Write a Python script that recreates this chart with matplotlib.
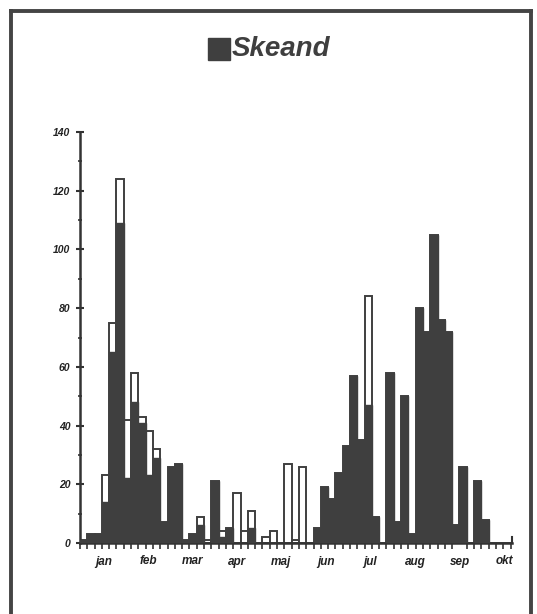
import numpy as np
import matplotlib
matplotlib.use("Agg")
import matplotlib.pyplot as plt
from matplotlib.lines import Line2D
from matplotlib.patches import Rectangle

# ---------------- data (5-day periods, Jan -> Oct) ----------------
# dark part of each bar
dark = [1, 3, 3, 14, 65, 109, 22, 48, 41, 23, 29, 7, 26, 27, 1, 3, 6, 0, 21, 2,
        5, 0, 0, 5, 0, 0, 0, 0, 0, 0, 0, 0, 5, 19, 15, 24, 33, 57, 35, 47,
        9, 0, 58, 7, 50, 3, 80, 72, 105, 76, 72, 6, 26, 0, 21, 8, 0, 0, 0]
# total height (dark + white part)
total = [1, 3, 3, 23, 75, 124, 42, 58, 43, 38, 32, 7, 26, 27, 1, 3, 9, 1, 21, 4,
         5, 17, 4, 11, 0, 2, 4, 0, 27, 1, 26, 0, 5, 19, 15, 24, 33, 57, 35, 84,
         9, 0, 58, 7, 50, 3, 80, 72, 105, 76, 72, 6, 26, 0, 21, 8, 0, 0, 0]
months = ['jan', 'feb', 'mar', 'apr', 'maj', 'jun', 'jul', 'aug', 'sep', 'okt']
title = 'Skeand'

dark_col = '#3f3f3f'
font = ['Liberation Sans Narrow', 'Liberation Sans', 'DejaVu Sans']
plt.rcParams['font.family'] = font

W, H = 537, 614
fig = plt.figure(figsize=(W / 100, H / 100), dpi=100)
fig.patch.set_facecolor('white')

ax = fig.add_axes([80 / W, (H - 543) / H, 432 / W, 411 / H])
x = np.arange(len(dark))

# white (outlined) bars for totals, dark bars on top
ax.bar(x, total, width=1, align='edge', color='white', edgecolor=dark_col,
       linewidth=1.4, zorder=2)
ax.bar(x, dark, width=1, align='edge', color=dark_col, edgecolor=dark_col,
       linewidth=1.0, zorder=3)

ax.set_xlim(0, 59.2)
ax.set_ylim(0, 140)

for s in ['top', 'right']:
    ax.spines[s].set_visible(False)
for s in ['left', 'bottom']:
    ax.spines[s].set_linewidth(1.8)
    ax.spines[s].set_color('#333333')

# y axis ticks
ax.set_yticks(np.arange(0, 141, 20))
ax.set_yticks(np.arange(10, 140, 20), minor=True)
ax.tick_params(axis='y', which='major', direction='inout', length=6, width=1.5,
               color='#333333', pad=4)
ax.tick_params(axis='y', which='minor', direction='inout', length=3, width=1.2,
               color='#333333')
for lab in ax.get_yticklabels():
    lab.set_fontsize(7.5)
    lab.set_fontweight('bold')
    lab.set_fontstyle('italic')
    lab.set_color('#222222')

# x axis: small tick every period, month names in between
ax.set_xticks(np.arange(0, 60), minor=True)
ax.set_xticks([3.2 + 6.1 * i for i in range(len(months))])
ax.set_xticklabels(months)
ax.tick_params(axis='x', which='minor', direction='out', length=4, width=1.2,
               color='#333333')
ax.tick_params(axis='x', which='major', length=0, pad=9)
for lab in ax.get_xticklabels():
    lab.set_fontsize(8.5)
    lab.set_fontweight('bold')
    lab.set_fontstyle('italic')
    lab.set_color('#222222')

# end cap of the x axis
ax.plot([59.2, 59.2], [0, 2], color='#333333', lw=1.5, clip_on=False, zorder=4)

# title with legend square
fig.patches.append(Rectangle((208 / W, 1 - 60 / H), 22 / W, 22 / H,
                             transform=fig.transFigure, color=dark_col))
fig.text(232 / W, 1 - 49 / H, title, fontsize=20, fontweight='bold',
         fontstyle='italic', color=dark_col, va='center', ha='left')

# outer frame (left, top, right edges)
for xs, ys in [([11, 11], [11, 614]), ([11, 531], [11, 11]), ([531, 531], [11, 614])]:
    fig.add_artist(Line2D([xx / W for xx in xs], [1 - yy / H for yy in ys],
                          transform=fig.transFigure, color='#444444', lw=2.8))

fig.savefig('out.png', dpi=100)
